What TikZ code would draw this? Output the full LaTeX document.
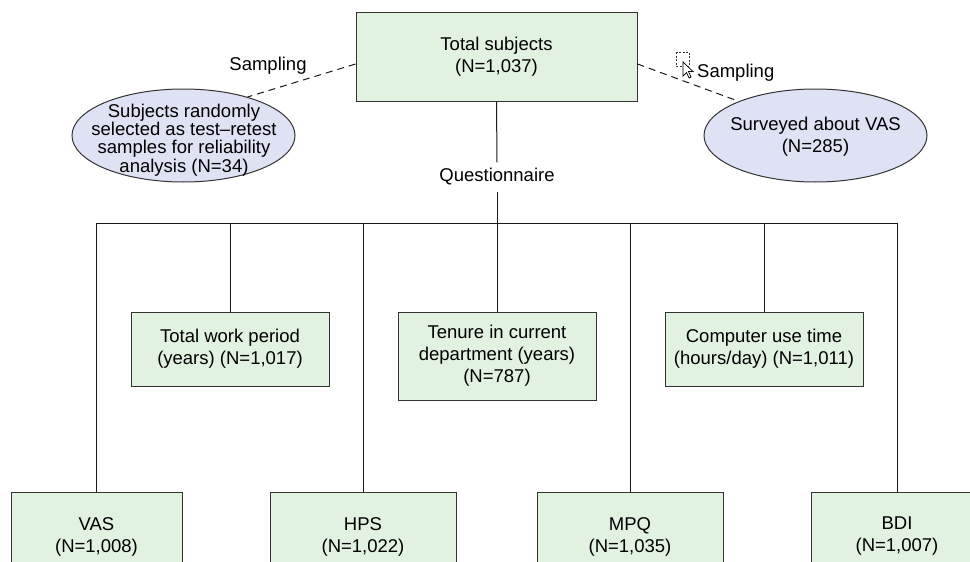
\documentclass[tikz,border=0pt]{standalone}
\usepackage{fontspec}
\setmainfont{Liberation Sans}
\usetikzlibrary{shapes.geometric}
\definecolor{boxgreen}{HTML}{E2F2E0}
\definecolor{ellblue}{HTML}{DFE2F4}
\definecolor{edgegray}{HTML}{333333}
\begin{document}
\begin{tikzpicture}[x=1pt,y=-1pt,
  txt/.style={font=\fontsize{18.5}{22}\selectfont, align=center, inner sep=0pt},
  gbox/.style={txt, draw=edgegray, fill=boxgreen, line width=1pt},
  ell/.style={ellipse, draw=edgegray, fill=ellblue, line width=1pt, inner sep=0pt, minimum width=223pt, minimum height=93pt},
  conn/.style={draw=black!90, line width=1pt},
  dconn/.style={draw=black!90, line width=1pt, dash pattern=on 7pt off 5pt}
]
\path[use as bounding box] (0,0) rectangle (970,562);
\clip (0,0) rectangle (970,562);

% top box
\node[gbox, minimum width=281pt, minimum height=89pt] (top) at (496.5,56.5) {Total subjects\\(N=1,037)};

% ellipses
\node[ell] (lell) at (183.5,135.5) {};
\node[txt, font=\fontsize{18.5}{18.4}\selectfont] (lelltxt) at (184,140) {Subjects randomly\\selected as test–retest\\samples for reliability\\analysis (N=34)};
\node[ell] (rell) at (815.5,135.5) {};
\node[txt] (relltxt) at (815.5,137) {Surveyed about VAS\\(N=285)};

% sampling labels
\node[txt] (lsamp) at (268,66) {Sampling};
\node[txt, anchor=west] (rsamp) at (697,73) {Sampling};

% dashed sampling connectors
\draw[dconn] ([yshift=-7.5pt]top.west) -- (lell.31);
\draw[dconn] ([yshift=-7.5pt]top.east) -- (rell.156);

% cursor artefact
\draw[black!80, line width=0.6pt, dash pattern=on 2pt off 1.5pt] (676,52) rectangle (689,66);
\draw[black, line width=0.7pt, fill=white, line join=miter]
  (683,62) -- (683,76) -- (686.5,72.5) -- (689,78) -- (691,77) -- (688.5,71.5) -- (693,71.5) -- cycle;

% questionnaire
\node[txt, fill=white, inner ysep=6pt, inner xsep=3pt] (q) at (497,177) {Questionnaire};
\coordinate (j) at (497,223);
\coordinate (bl) at (97,223);
\coordinate (br) at (897,223);
\draw[conn] (top.south) -- (q.north);
\draw[conn] (q.south) -- (j);
\draw[conn] (bl) -- (br);

% middle boxes
\node[gbox, minimum width=198pt, minimum height=74pt] (work) at (230,349) {Total work period\\(years) (N=1,017)};
\node[gbox, minimum width=198pt, minimum height=88pt] (tenure) at (497,356) {Tenure in current\\department (years)\\(N=787)};
\node[gbox, minimum width=198pt, minimum height=74pt] (comp) at (764,349) {Computer use time\\(hours/day) (N=1,011)};

% bottom boxes
\node[gbox, minimum width=171pt, minimum height=89pt] (vas) at (96.5,536.5) {VAS\\(N=1,008)};
\node[gbox, minimum width=186pt, minimum height=89pt] (hps) at (363,536.5) {HPS\\(N=1,022)};
\node[gbox, minimum width=186pt, minimum height=89pt] (mpq) at (630,536.5) {MPQ\\(N=1,035)};
\node[gbox, minimum width=172pt, minimum height=89pt] (bdi) at (897,536.5) {BDI\\(N=1,007)};

% verticals
\foreach \n in {work,tenure,comp,vas,hps,mpq,bdi}
  \draw[conn] (\n.north) -- (\n.north |- j);
\end{tikzpicture}
\end{document}
